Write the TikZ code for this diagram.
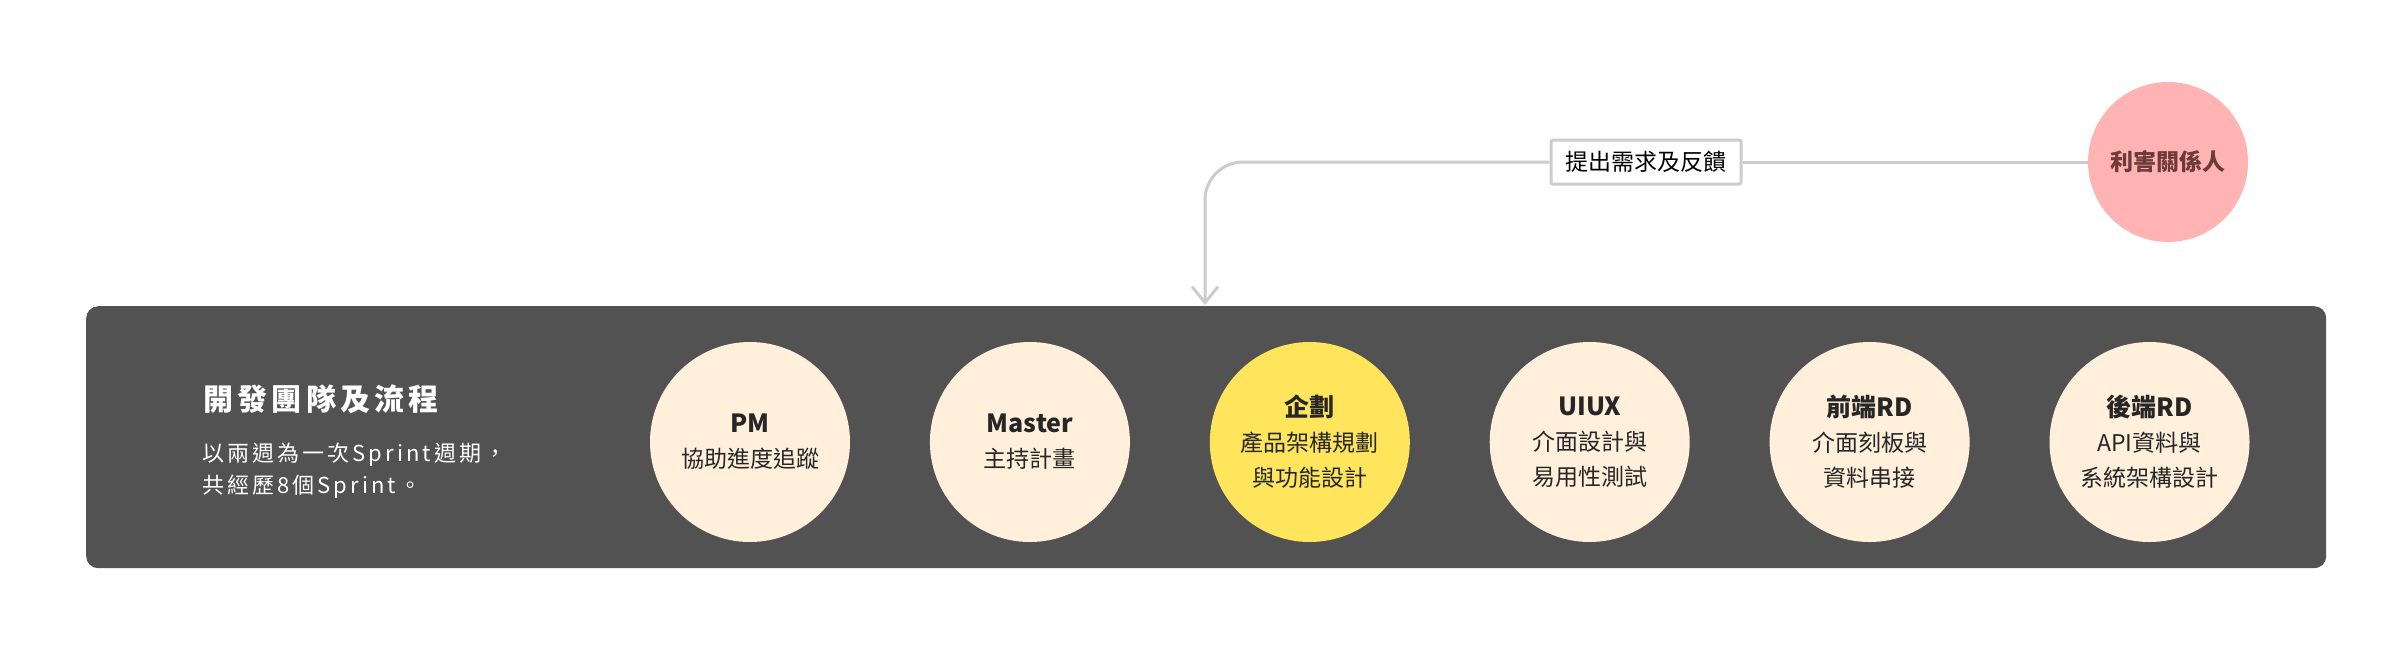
\documentclass[tikz,border=0pt]{standalone}
\usepackage{fontspec}
\setmainfont{Noto Sans CJK TC}
\newfontfamily\spacedfont[LetterSpace=14]{Noto Sans CJK TC}
\usepackage{xcolor}
\usepackage{tikz}
\usetikzlibrary{arrows.meta,positioning}

\definecolor{panelgray}{HTML}{525252}
\definecolor{creamfill}{HTML}{FFEFDB}
\definecolor{planyellow}{HTML}{FFE55C}
\definecolor{stakepink}{HTML}{FFB3B3}
\definecolor{stakebrown}{HTML}{6E3A3A}
\definecolor{flowgray}{HTML}{CCCCCC}

\begin{document}
\begin{tikzpicture}[x=1pt,y=-1pt,
		role/.style={circle, fill=creamfill, minimum size=200pt, inner sep=0pt, align=center,
			font=\fontsize{23}{35}\selectfont, text=black!85},
		flow/.style={draw=flowgray, line width=3pt}]
		\useasboundingbox (0,0) rectangle (2400,654);

		% development team panel
		\node[fill=panelgray, rounded corners=12pt, minimum width=2240pt, minimum height=262pt,
			anchor=north west, inner sep=0pt] (team) at (86,306) {};

		\node[anchor=west, text=white, font=\spacedfont\bfseries\fontsize{30}{36}\selectfont] (teamtitle) at (200,399) {開發團隊及流程};
		\node[anchor=west, text=white, align=left, inner sep=0pt, font=\spacedfont\fontsize{22}{32}\selectfont] (teamtext) at (202,471) {以兩週為一次Sprint週期，\\共經歷8個Sprint。};

		% roles
		\node[role] (pm) at (750,442) {{\bfseries\fontsize{25}{35}\selectfont PM}\\協助進度追蹤};
		\node[role, right=79.5pt of pm] (master) {{\bfseries\fontsize{25}{35}\selectfont Master}\\主持計畫};
		\node[role, fill=planyellow, right=79.5pt of master] (plan) {{\bfseries\fontsize{25}{35}\selectfont 企劃}\\產品架構規劃\\與功能設計};
		\node[role, right=79.5pt of plan] (uiux) {{\bfseries\fontsize{25}{35}\selectfont UIUX}\\介面設計與\\易用性測試};
		\node[role, right=79.5pt of uiux] (frontend) {{\bfseries\fontsize{25}{35}\selectfont 前端RD}\\介面刻板與\\資料串接};
		\node[role, right=79.5pt of frontend] (backend) {{\bfseries\fontsize{25}{35}\selectfont 後端RD}\\API資料與\\系統架構設計};

		% stakeholders
		\node[circle, fill=stakepink, minimum size=160pt, inner sep=0pt, text=stakebrown,
			font=\bfseries\fontsize{23}{28}\selectfont] (stake) at (2168,162) {利害關係人};
		\node[draw=flowgray, line width=3pt, fill=white, rounded corners=2pt, minimum width=190pt,
			minimum height=44pt, inner sep=0pt, font=\fontsize{23}{28}\selectfont] (feedback) at (1646,162) {提出需求及反饋};
		\coordinate (drop) at (1205,305);

		\draw[flow] (stake.west) -- (feedback.east);
		\draw[flow, rounded corners=38pt, -{Straight Barb[length=16pt,width=26pt]}] (feedback.west) -- (feedback.west -| drop) -- (drop);
	\end{tikzpicture}
\end{document}
